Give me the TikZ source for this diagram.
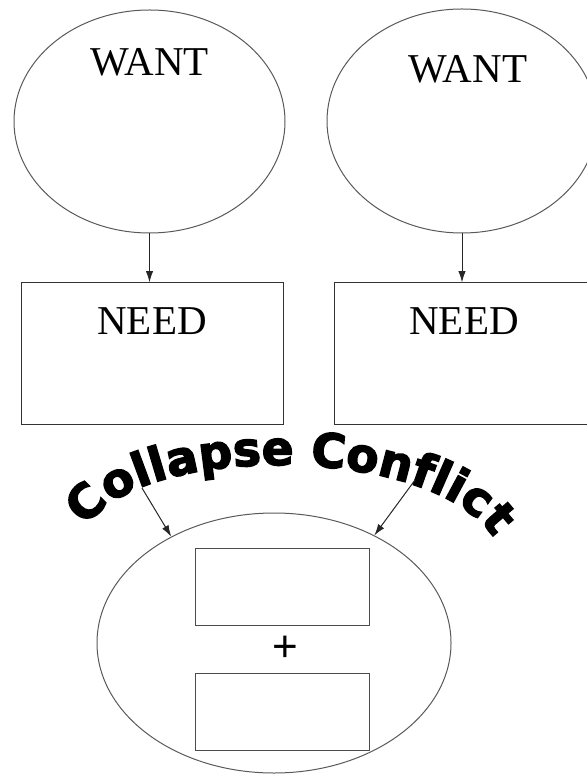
\documentclass[tikz,border=0pt]{standalone}
\usepackage{fontspec}
\setmainfont{Liberation Serif}
\newfontfamily\arcfont{DejaVu Sans}[BoldFeatures={FakeBold=3}]
\newfontfamily\plusfont{Liberation Sans}
\usetikzlibrary{arrows.meta,positioning,shapes.geometric,decorations.text}

\begin{document}
\begin{tikzpicture}[x=0.5pt,y=-0.5pt,>=Latex,
  wantel/.style={draw=black!65,line width=0.5pt,ellipse,inner sep=0pt},
  needbox/.style={draw=black!80,line width=0.5pt,minimum width=131pt,minimum height=70.5pt,inner sep=0pt},
  slotbox/.style={draw=black!70,line width=0.5pt,minimum width=87pt,minimum height=38.5pt,inner sep=0pt},
  tag/.style={font=\fontsize{20.5}{22}\selectfont,anchor=center},
  link/.style={draw=black!85,line width=0.5pt,-{Latex[length=2mm,width=1.3mm]}}]
\useasboundingbox (0,0) rectangle (587,774);
\node[wantel,minimum width=135.5pt,minimum height=111.5pt,label={[tag,yshift=29.5pt]center:WANT}] (want1) at (149.5,121.5) {};
\node[wantel,minimum width=135pt,minimum height=112pt,label={[tag,yshift=26pt,xshift=3pt]center:WANT}] (want2) at (462,121) {};
\node[needbox,label={[tag,yshift=16pt]center:NEED}] (need1) at (152,353.5) {};
\node[needbox,label={[tag,yshift=16pt,xshift=-0.5pt]center:NEED}] (need2) at (465,353.5) {};
\draw[link] (want1.south) -- (want1.south |- need1.north);
\draw[link] (want2.south) -- (want2.south |- need2.north);
\node[wantel,minimum width=177pt,minimum height=130pt] (merge) at (274,643) {};
\node[slotbox] (slot1) at (282,586.5) {};
\node[slotbox] (slot2) at (282,711.5) {};
\node[font=\plusfont\fontsize{22}{24}\selectfont,inner sep=0pt] (plus) at (285,649) {+};
% arched title
\path[decorate,decoration={text along path,text align=center,
  text={|\arcfont\bfseries\fontsize{23.5}{24}\selectfont|Collapse Conflict}}]
  (84,532) .. controls (128,441) and (440,441) .. (496,542);
\coordinate (tipL) at (142,488);
\coordinate (tipR) at (415,480);
\draw[link] (tipL) -- (merge.134);
\draw[link] (tipR) -- (merge.47);
\end{tikzpicture}
\end{document}
